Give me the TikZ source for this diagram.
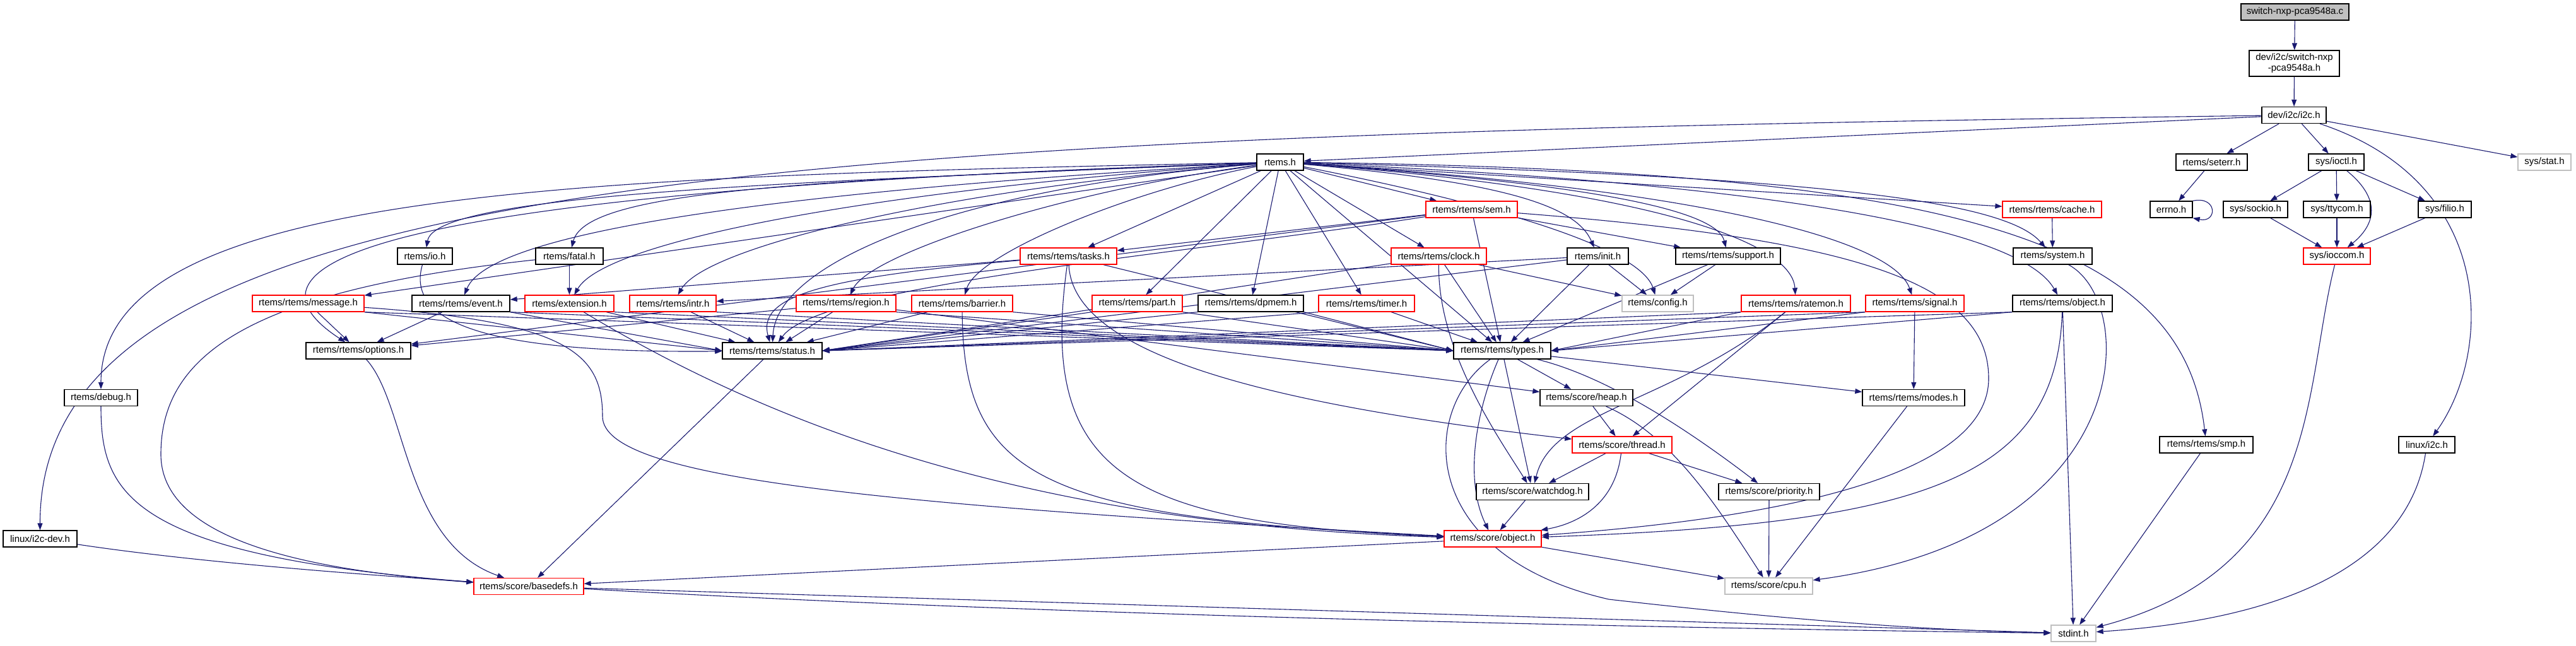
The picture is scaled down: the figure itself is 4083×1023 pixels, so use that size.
\documentclass[tikz,border=0pt]{standalone}
\usepackage{fontspec}
\setmainfont{Liberation Sans}
\usetikzlibrary{arrows.meta}
\definecolor{edgec}{HTML}{191970}
\definecolor{grayb}{HTML}{BFBFBF}
\definecolor{redb}{HTML}{FF0000}
\pgfdeclarelayer{bg}
\pgfsetlayers{bg,main}
\tikzset{
  nb/.style={draw=black, line width=1.3pt, fill=white, inner sep=0pt, minimum height=26pt, font=\fontsize{15}{17}\selectfont, align=center},
  nr/.style={nb, draw=redb},
  ng/.style={nb, draw=grayb},
  e/.style={draw=edgec, line width=1.1pt, -{Triangle[length=11pt,width=8pt]}},
}
\begin{document}
\begin{tikzpicture}[x=1pt, y=-1pt]
\useasboundingbox (0,0) rectangle (4083,1023);
% row 0-2
\node[nb, minimum width=171pt, fill=grayb] (c) at (3637.5,19) {switch-nxp-pca9548a.c};
\node[nb, minimum width=143pt, minimum height=41pt] (swh) at (3636.5,100.5) {dev/i2c/switch-nxp\\-pca9548a.h};
\node[nb, minimum width=102pt] (i2c) at (3636,182.5) {dev/i2c/i2c.h};
% row 3
\node[nb, minimum width=74pt] (rtems) at (2029,257) {rtems.h};
\node[nb, minimum width=113pt] (seterr) at (3505.5,257) {rtems/seterr.h};
\node[nb, minimum width=88pt] (ioctl) at (3703,257) {sys/ioctl.h};
\node[ng, minimum width=84pt] (stat) at (4033,257) {sys/stat.h};
% row 4
\node[nr, minimum width=145pt] (sem) at (2332.5,332) {rtems/rtems/sem.h};
\node[nr, minimum width=157pt] (cache) at (3252.5,332) {rtems/rtems/cache.h};
\node[nb, minimum width=67pt] (errno) at (3441.5,332) {errno.h};
\node[nb, minimum width=102pt] (sockio) at (3575,332) {sys/sockio.h};
\node[nb, minimum width=106pt] (ttycom) at (3704,332) {sys/ttycom.h};
\node[nb, minimum width=84pt] (filio) at (3875,332) {sys/filio.h};
% row 5
\node[nb, minimum width=87pt] (io) at (673.5,406) {rtems/io.h};
\node[nb, minimum width=107pt] (fatal) at (902.5,406) {rtems/fatal.h};
\node[nr, minimum width=153pt] (tasks) at (1693.5,406) {rtems/rtems/tasks.h};
\node[nr, minimum width=151pt] (clock) at (2280.5,406) {rtems/rtems/clock.h};
\node[nb, minimum width=97pt] (init) at (2532.5,406) {rtems/init.h};
\node[nb, minimum width=166pt] (support) at (2739,406) {rtems/rtems/support.h};
\node[nb, minimum width=125pt] (system) at (3253.5,406) {rtems/system.h};
\node[nr, minimum width=106pt] (ioccom) at (3704,406) {sys/ioccom.h};
% row 6
\node[nr, minimum width=177pt] (message) at (488.5,481) {rtems/rtems/message.h};
\node[nb, minimum width=155pt] (event) at (730.5,481) {rtems/rtems/event.h};
\node[nr, minimum width=141pt] (extension) at (902.5,481) {rtems/extension.h};
\node[nr, minimum width=137pt] (intr) at (1066.5,481) {rtems/rtems/intr.h};
\node[nr, minimum width=158pt] (region) at (1341,481) {rtems/rtems/region.h};
\node[nr, minimum width=160pt] (barrier) at (1525,481) {rtems/rtems/barrier.h};
\node[nr, minimum width=143pt] (part) at (1802.5,481) {rtems/rtems/part.h};
\node[nb, minimum width=167pt] (dpmem) at (1982.5,481) {rtems/rtems/dpmem.h};
\node[nr, minimum width=152pt] (timer) at (2166,481) {rtems/rtems/timer.h};
\node[ng, minimum width=113pt] (config) at (2627.5,481) {rtems/config.h};
\node[nr, minimum width=173pt] (ratemon) at (2846.5,481) {rtems/rtems/ratemon.h};
\node[nr, minimum width=156pt] (signal) at (3035,481) {rtems/rtems/signal.h};
\node[nb, minimum width=158pt] (robject) at (3269,481) {rtems/rtems/object.h};
% row 7
\node[nb, minimum width=166pt] (options) at (568,556) {rtems/rtems/options.h};
\node[nb, minimum width=158pt] (status) at (1224,556) {rtems/rtems/status.h};
\node[nb, minimum width=154pt] (types) at (2381,556) {rtems/rtems/types.h};
% row 8
\node[nb, minimum width=116pt] (debug) at (160,630.5) {rtems/debug.h};
\node[nb, minimum width=147pt] (heap) at (2514.5,630.5) {rtems/score/heap.h};
\node[nb, minimum width=162pt] (modes) at (3033,630.5) {rtems/rtems/modes.h};
% row 9
\node[nr, minimum width=158pt] (thread) at (2571,705) {rtems/score/thread.h};
\node[nb, minimum width=148pt] (smp) at (3497,705) {rtems/rtems/smp.h};
\node[nb, minimum width=89pt] (li2c) at (3846.5,705) {linux/i2c.h};
% row 10
\node[nb, minimum width=178pt] (watchdog) at (2429,779.5) {rtems/score/watchdog.h};
\node[nb, minimum width=160pt] (priority) at (2804,779.5) {rtems/score/priority.h};
% row 11
\node[nb, minimum width=117pt] (lidev) at (63.5,854) {linux/i2c-dev.h};
\node[nr, minimum width=154pt] (sobject) at (2366,854) {rtems/score/object.h};
% row 12
\node[nr, minimum width=174pt] (basedefs) at (838,929.5) {rtems/score/basedefs.h};
\node[ng, minimum width=139pt] (cpu) at (2803.5,929) {rtems/score/cpu.h};
% row 13
\node[ng, minimum width=71pt] (stdint) at (3286.5,1004) {stdint.h};

\begin{pgfonlayer}{bg}
% top part
\draw[e] (c) -- (swh);
\draw[e] (swh) -- (i2c);
\draw[e] (i2c) -- (rtems);
\draw[e] (i2c) -- (seterr);
\draw[e] (i2c) -- (ioctl);
\draw[e] (i2c) -- (stat);
\draw[e] (i2c) .. controls (1200,215) and (63,280) .. (lidev);
\draw[e] (i2c) .. controls (3960,290) and (3950,560) .. (li2c);
\draw[e] (seterr) -- (errno);
\draw[e] (errno.north east) .. controls (3515,310) and (3515,354) .. (errno.south east);
\draw[e] (ioctl) -- (sockio);
\draw[e] (ioctl) -- (ttycom);
\draw[e] (ioctl) -- (filio);
\draw[e] (ioctl) .. controls (3780,320) and (3760,360) .. (ioccom);
\draw[e] (sockio) -- (ioccom);
\draw[e] (ttycom) -- (ioccom);
\draw[e] (filio) -- (ioccom);
\draw[e] (ioccom) .. controls (3650,620) and (3680,900) .. (stdint);
\draw[e] (li2c) .. controls (3820,880) and (3650,980) .. (stdint);
\draw[e] (lidev) .. controls (700,950) and (2200,990) .. (stdint);
\draw[e] (cache) -- (system);
\draw[e] (system) .. controls (3390,480) and (3390,850) .. (cpu);
% rtems.h
\draw[e] (rtems) .. controls (900,280) and (160,300) .. (debug);
\draw[e] (rtems) .. controls (1200,290) and (690,310) .. (io);
\draw[e] (rtems) .. controls (1300,285) and (930,300) .. (fatal);
\draw[e] (rtems) -- (message);
\draw[e] (rtems) .. controls (700,300) and (330,400) .. (options);
\draw[e] (rtems) .. controls (1300,300) and (780,360) .. (event);
\draw[e] (rtems) .. controls (1400,300) and (960,380) .. (extension);
\draw[e] (rtems) .. controls (1500,300) and (1120,390) .. (intr);
\draw[e] (rtems) .. controls (1700,300) and (1380,400) .. (region);
\draw[e] (rtems) .. controls (1800,300) and (1550,400) .. (barrier);
\draw[e] (rtems) -- (tasks);
\draw[e] (rtems) -- (part);
\draw[e] (rtems) -- (dpmem);
\draw[e] (rtems) -- (timer);
\draw[e] (rtems) .. controls (1500,300) and (1230,420) .. (status);
\draw[e] (rtems) -- (types);
\draw[e] (rtems) -- (sem);
\draw[e] (rtems) -- (clock);
\draw[e] (rtems) .. controls (2400,290) and (2500,330) .. (init);
\draw[e] (rtems) .. controls (2500,290) and (2720,330) .. (support);
\draw[e] (rtems) .. controls (2350,320) and (2600,390) .. (config);
\draw[e] (rtems) .. controls (2600,300) and (2840,380) .. (ratemon);
\draw[e] (rtems) .. controls (2700,300) and (3000,380) .. (signal);
\draw[e] (rtems) .. controls (2800,290) and (3200,360) .. (robject);
\draw[e] (rtems) -- (cache);
\draw[e] (rtems) .. controls (2900,280) and (3180,320) .. (system);
\draw[e] (rtems) .. controls (3100,270) and (3460,380) .. (smp);
% sem.h
\draw[e] (sem) -- (support);
\draw[e] (sem) -- (tasks);
\draw[e] (sem) -- (options);
\draw[e] (sem) .. controls (1900,400) and (1300,450) .. (status);
\draw[e] (sem) -- (types);
\draw[e] (sem) .. controls (2950,380) and (3152,450) .. (3152,600) .. controls (3152,780) and (2700,830) .. (sobject);
% tasks.h
\draw[e] (tasks) -- (event);
\draw[e] (tasks) .. controls (1300,440) and (1200,470) .. (status);
\draw[e] (tasks) -- (types.west);
\draw[e] (tasks) .. controls (1700,560) and (2000,640) .. (thread);
\draw[e] (tasks) .. controls (1643,760) and (1800,830) .. (sobject);
% clock.h, init.h, support.h
\draw[e] (clock) -- (status.east);
\draw[e] (clock) -- (types);
\draw[e] (clock) -- (config);
\draw[e] (clock) .. controls (2279,560) and (2380,700) .. (watchdog);
\draw[e] (init) -- (config);
\draw[e] (init) -- (intr);
\draw[e] (init) -- (status.east);
\draw[e] (init) -- (types);
\draw[e] (support) -- (config);
\draw[e] (support) -- (types);
% row 6 to options, status, types
\draw[e] (message) -- (options);
\draw[e] (message.south east) -- (status.west);
\draw[e] (message.south east) -- (types.west);
\draw[e] (event) -- (options);
\draw[e] (event.south east) -- (status.west);
\draw[e] (event.south east) -- (types.west);
\draw[e] (extension) -- (status);
\draw[e] (extension.south east) -- (types.west);
\draw[e] (intr) -- (status);
\draw[e] (intr.south east) -- (types.west);
\draw[e] (region) -- (options);
\draw[e] (region) -- (status);
\draw[e] (region.south east) -- (types.west);
\draw[e] (region) -- (heap);
\draw[e] (barrier) -- (status);
\draw[e] (barrier.south east) -- (types.west);
\draw[e] (part.south west) -- (status.east);
\draw[e] (part.south east) -- (types.west);
\draw[e] (dpmem.south west) -- (status.east);
\draw[e] (dpmem.south east) -- (types.west);
\draw[e] (timer.south west) -- (status.east);
\draw[e] (timer) -- (types);
\draw[e] (ratemon.south west) -- (status.east);
\draw[e] (ratemon.south west) -- (types.east);
\draw[e] (ratemon) -- (thread);
\draw[e] (ratemon) .. controls (2650,640) and (2460,650) .. (watchdog);
\draw[e] (signal.south west) -- (status.east);
\draw[e] (signal.south west) -- (types.east);
\draw[e] (signal) -- (modes);
\draw[e] (robject.south west) -- (status.east);
\draw[e] (robject.south west) -- (types.east);
\draw[e] (robject) .. controls (3260,760) and (3050,830) .. (sobject);
\draw[e] (robject) -- (stdint);
% left side
\draw[e] (fatal) -- (extension);
\draw[e] (fatal) .. controls (400,460) and (255,560) .. (255,720) .. controls (255,860) and (500,905) .. (basedefs);
\draw[e] (io) .. controls (640,520) and (800,560) .. (status);
\draw[e] (debug) .. controls (160,780) and (200,880) .. (basedefs);
\draw[e] (options) .. controls (645,640) and (640,860) .. (basedefs);
\draw[e] (status) -- (basedefs);
\draw[e] (message) .. controls (900,510) and (955,560) .. (955,660) .. controls (955,760) and (1400,800) .. (sobject);
\draw[e] (extension) .. controls (1200,660) and (1600,830) .. (sobject);
\draw[e] (barrier) .. controls (1527,760) and (1650,820) .. (sobject);
% score part
\draw[e] (types) -- (heap);
\draw[e] (types) -- (watchdog);
\draw[e] (types) .. controls (2340,650) and (2320,760) .. (sobject);
\draw[e] (types) .. controls (2560,600) and (2700,700) .. (priority);
\draw[e] (types) -- (modes);
\draw[e] (types) .. controls (2250,650) and (2245,880) .. (2550,950) .. controls (2900,990) and (3100,1000) .. (stdint);
\draw[e] (heap) -- (thread);
\draw[e] (heap) .. controls (2650,690) and (2720,800) .. (cpu);
\draw[e] (thread) -- (watchdog);
\draw[e] (thread) -- (priority);
\draw[e] (thread) .. controls (2560,800) and (2500,830) .. (sobject);
\draw[e] (watchdog) -- (sobject);
\draw[e] (priority) -- (cpu);
\draw[e] (modes) -- (cpu);
\draw[e] (sobject) -- (cpu);
\draw[e] (sobject) -- (basedefs);
\draw[e] (basedefs) -- (stdint);
\draw[e] (smp) -- (stdint);
\end{pgfonlayer}
\end{tikzpicture}
\end{document}
